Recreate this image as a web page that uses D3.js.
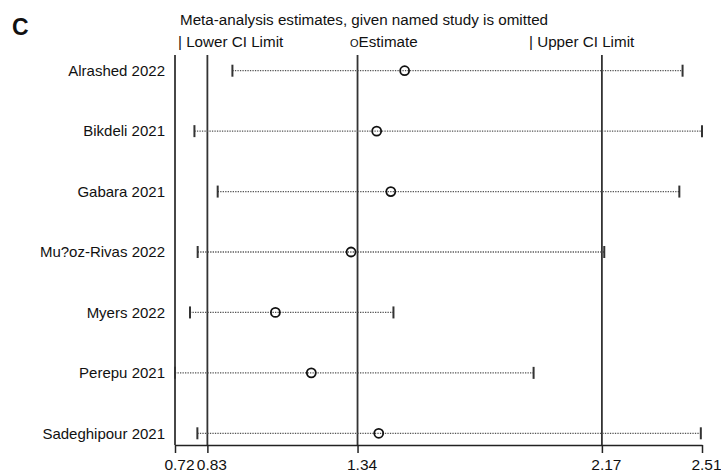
<!DOCTYPE html>
<html><head><meta charset="utf-8">
<script src="https://cdn.jsdelivr.net/npm/d3@7/dist/d3.min.js"></script>
<style>body{margin:0;background:#fff}svg{display:block}text{font-family:"Liberation Sans",Arial,sans-serif}</style>
</head><body><svg id="c" width="721" height="472"></svg>
<script>
const studies = ["Alrashed 2022","Bikdeli 2021","Gabara 2021","Mu?oz-Rivas 2022","Myers 2022","Perepu 2021","Sadeghipour 2021"];
const estimates = [1.50, 1.405, 1.453, 1.318, 1.061, 1.183, 1.412];
const lowerCI = [0.915, 0.786, 0.865, 0.797, 0.771, 0.72, 0.796];
const upperCI = [2.444, 2.51, 2.433, 2.178, 1.462, 1.938, 2.506];
const tickValues = [0.72, 0.83, 1.34, 2.17, 2.51];
const refLines = [0.83, 1.34, 2.17];

const svg = d3.select("#c");
const x = d3.scaleLinear().domain([0.72, 2.51]).range([175, 702]);
const y = d3.scalePoint().domain(studies).range([70.7, 433.3]);
const plotTop = 55, axisY = 445;

// panel letter
svg.append("text").attr("x", 12).attr("y", 35).attr("font-size", 23).attr("font-weight", "bold").attr("fill", "#111").text("C");
// title
svg.append("text").attr("x", 180).attr("y", 25).attr("font-size", 15.2).attr("fill", "#111")
  .text("Meta-analysis estimates, given named study is omitted");
// legend
svg.append("text").attr("x", 178).attr("y", 47).attr("font-size", 15.2).attr("fill", "#111").text("| Lower CI Limit");
const est = svg.append("text").attr("x", 350).attr("y", 47).attr("font-size", 15.2).attr("fill", "#111");
est.append("tspan").attr("font-size", 11).text("O");
est.append("tspan").text("Estimate");
svg.append("text").attr("x", 529).attr("y", 47).attr("font-size", 15.2).attr("fill", "#111").text("| Upper CI Limit");

// left border
svg.append("line").attr("x1", x(0.72)).attr("x2", x(0.72)).attr("y1", plotTop).attr("y2", axisY).attr("stroke", "#333").attr("stroke-width", 1.8);
// reference lines
svg.selectAll(".ref").data(refLines).join("line")
  .attr("x1", d => x(d)).attr("x2", d => x(d)).attr("y1", plotTop).attr("y2", axisY)
  .attr("stroke", "#333").attr("stroke-width", 1.8);

// axis
const ax = svg.append("g").attr("transform", `translate(0,${axisY})`)
  .call(d3.axisBottom(x).tickValues(tickValues).tickFormat(d3.format(".2f")).tickSize(8).tickPadding(2).tickSizeOuter(0));
ax.select(".domain").attr("stroke", "#222").attr("stroke-width", 1.5);
ax.selectAll(".tick line").attr("stroke", "#222").attr("stroke-width", 1.5);
ax.selectAll(".tick text").attr("font-size", 15.5).attr("font-family", "Liberation Sans, Arial, sans-serif")
  .attr("fill", "#111").attr("dx", 4).attr("y", 25).attr("dy", 0);

// rows
const rows = svg.selectAll(".row").data(studies).join("g");
rows.append("line").attr("x1", (d,i) => x(lowerCI[i])).attr("x2", (d,i) => x(upperCI[i]))
  .attr("y1", d => y(d)).attr("y2", d => y(d))
  .attr("stroke", "#555").attr("stroke-width", 1.3).attr("stroke-dasharray", "1.3,1.2");
rows.append("line").attr("x1", (d,i) => x(lowerCI[i])).attr("x2", (d,i) => x(lowerCI[i]))
  .attr("y1", d => y(d) - 6).attr("y2", d => y(d) + 6).attr("stroke", "#333").attr("stroke-width", 2);
rows.append("line").attr("x1", (d,i) => x(upperCI[i])).attr("x2", (d,i) => x(upperCI[i]))
  .attr("y1", d => y(d) - 6).attr("y2", d => y(d) + 6).attr("stroke", "#333").attr("stroke-width", 2);
rows.append("circle").attr("cx", (d,i) => x(estimates[i])).attr("cy", d => y(d)).attr("r", 4.5)
  .attr("fill", "none").attr("stroke", "#111").attr("stroke-width", 1.8);
rows.append("text").attr("x", 165).attr("y", d => y(d)).attr("dy", "0.35em").attr("text-anchor", "end")
  .attr("font-size", 15).attr("fill", "#111").text(d => d);
</script></body></html>
